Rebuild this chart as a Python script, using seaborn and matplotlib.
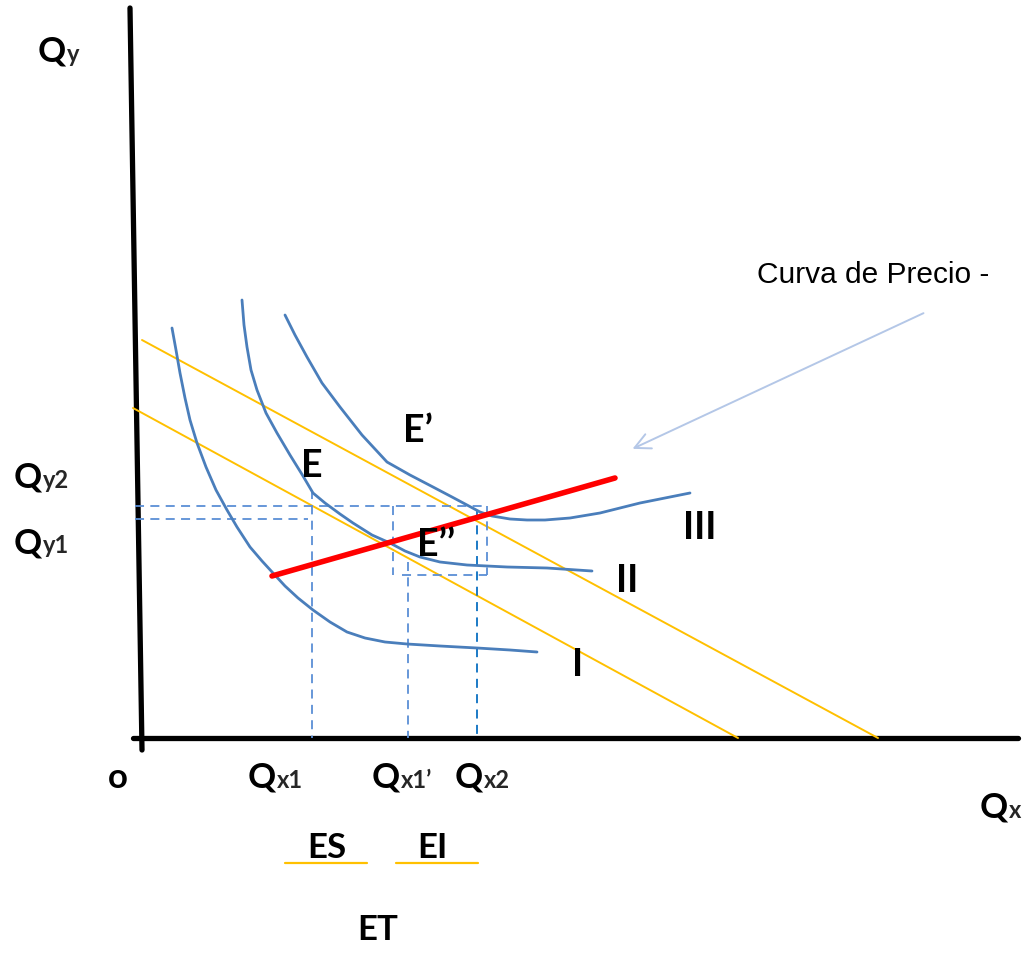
import matplotlib
matplotlib.use("Agg")
import matplotlib.pyplot as plt
import seaborn as sns
import pandas as pd

# all coordinates in pixel units (x right, y down)
curve_I_x = [172, 176, 180, 185, 190, 197, 206, 216, 227, 237, 250, 262, 273, 285, 298, 313, 330, 347, 365, 385, 407, 440, 477, 510, 537]
curve_I_y = [328, 350, 373, 398, 420, 443, 467, 490, 510, 527, 547, 561, 573, 586, 598, 610, 622, 632, 638, 642, 644, 646, 648, 650, 652]
curve_II_x = [242, 244, 247, 251, 257, 266, 277, 290, 303, 313, 325, 340, 353, 372, 390, 405, 420, 440, 467, 507, 547, 592]
curve_II_y = [300, 325, 347, 370, 390, 413, 433, 455, 476, 493, 503, 514, 523, 535, 543, 551, 557, 562, 565, 567, 568, 571]
curve_III_x = [285, 295, 307, 322, 340, 362, 387, 410, 433, 452, 467, 480, 492, 510, 527, 545, 570, 600, 640, 690]
curve_III_y = [315, 335, 357, 383, 407, 435, 462, 475, 487, 497, 505, 512, 516, 519, 520, 520, 518, 513, 503, 493]

budget_x = [[133, 738], [142, 878]]
budget_y = [[408, 738], [340, 738]]

pcc_x = [272, 615]
pcc_y = [576, 478]

# dashed guides: (x0, y0, x1, y1, color)
guides = [
    (135, 506, 487, 506, "#5b8fd6"),
    (135, 519, 308, 519, "#5b8fd6"),
    (312, 490, 312, 738, "#5b8fd6"),
    (393, 506, 393, 575, "#5b8fd6"),
    (402, 575, 487, 575, "#5b8fd6"),
    (487, 506, 487, 575, "#5b8fd6"),
    (408, 562, 408, 738, "#5b8fd6"),
    (477, 510, 477, 738, "#0a6fc2"),
]

blue = "#4a7ebb"
orange = "#ffc000"

fig = plt.figure(figsize=(10.22, 9.6), dpi=100)
ax = fig.add_axes([0, 0, 1, 1])
sns.set_style("white")
ax.set_xlim(0, 1022)
ax.set_ylim(960, 0)
ax.axis("off")

# axes of the diagram
sns.lineplot(x=[130, 142], y=[8, 750], ax=ax, color="black", lw=3.8, sort=False, estimator=None)
sns.lineplot(x=[133, 1018], y=[738, 738], ax=ax, color="black", lw=3.8, sort=False, estimator=None)

# budget lines
for bx, by in zip(budget_x, budget_y):
    sns.lineplot(x=bx, y=by, ax=ax, color=orange, lw=1.4, sort=False, estimator=None)

# dashed guides
for x0, y0, x1, y1, c in guides:
    ax.plot([x0, x1], [y0, y1], color=c, lw=1.3, dashes=(5, 3.5))

# indifference curves
curves = pd.concat([
    pd.DataFrame({"x": curve_I_x, "y": curve_I_y, "curve": "I"}),
    pd.DataFrame({"x": curve_II_x, "y": curve_II_y, "curve": "II"}),
    pd.DataFrame({"x": curve_III_x, "y": curve_III_y, "curve": "III"}),
])
sns.lineplot(data=curves, x="x", y="y", units="curve", estimator=None, sort=False,
             ax=ax, color=blue, lw=2.0)

# price consumption curve
sns.lineplot(x=pcc_x, y=pcc_y, ax=ax, color="#ff0000", lw=4.0, sort=False, estimator=None)

# arrow
ax.annotate("", xy=(630, 450), xytext=(926, 312),
            arrowprops=dict(arrowstyle="->", color="#b4c7e7", lw=1.4, mutation_scale=28))

bold = dict(fontfamily="Lato", fontweight="bold", color="black")
big = 25
small = 17

def qlabel(x, y, sub, size=big, subsize=small):
    t = ax.text(x, y, "Q", fontsize=size, va="baseline", ha="left", **bold)
    fig.canvas.draw()
    bb = t.get_window_extent()
    inv = ax.transData.inverted()
    xr = inv.transform((bb.x1, bb.y0))[0]
    ax.text(xr + 1, y, sub, fontsize=subsize, va="baseline", ha="left",
            fontfamily="Lato", fontweight="bold")

qlabel(38, 62, "y")
qlabel(14, 488, "y2")
qlabel(14, 553, "y1")
qlabel(248, 788, "x1")
qlabel(372, 788, "x1\u2019")
qlabel(455, 788, "x2")
qlabel(980, 818, "x")

ax.text(118, 788, "o", fontsize=big, va="baseline", ha="center", **bold)

ax.text(312, 477, "E", fontsize=27, va="baseline", ha="center", **bold)
ax.text(418, 442, "E\u2019", fontsize=27, va="baseline", ha="center", **bold)
ax.text(436, 556, "E\u2019\u2019", fontsize=27, va="baseline", ha="center", **bold)

ax.text(700, 539, "III", fontsize=27, va="baseline", ha="center", **bold)
ax.text(627, 592, "II", fontsize=27, va="baseline", ha="center", **bold)
ax.text(578, 676, "I", fontsize=27, va="baseline", ha="center", **bold)

ax.text(327, 858, "ES", fontsize=25, va="baseline", ha="center", **bold)
ax.text(432, 858, "EI", fontsize=25, va="baseline", ha="center", **bold)
ax.text(378, 940, "ET", fontsize=25, va="baseline", ha="center", **bold)
sns.lineplot(x=[285, 367], y=[863, 863], ax=ax, color=orange, lw=1.6, sort=False, estimator=None)
sns.lineplot(x=[396, 478], y=[863, 863], ax=ax, color=orange, lw=1.6, sort=False, estimator=None)

ax.text(757, 283, "Curva de Precio -", fontsize=21.5, va="baseline", ha="left",
        fontfamily="Liberation Sans", color="black")

fig.savefig("out.png", dpi=100)
